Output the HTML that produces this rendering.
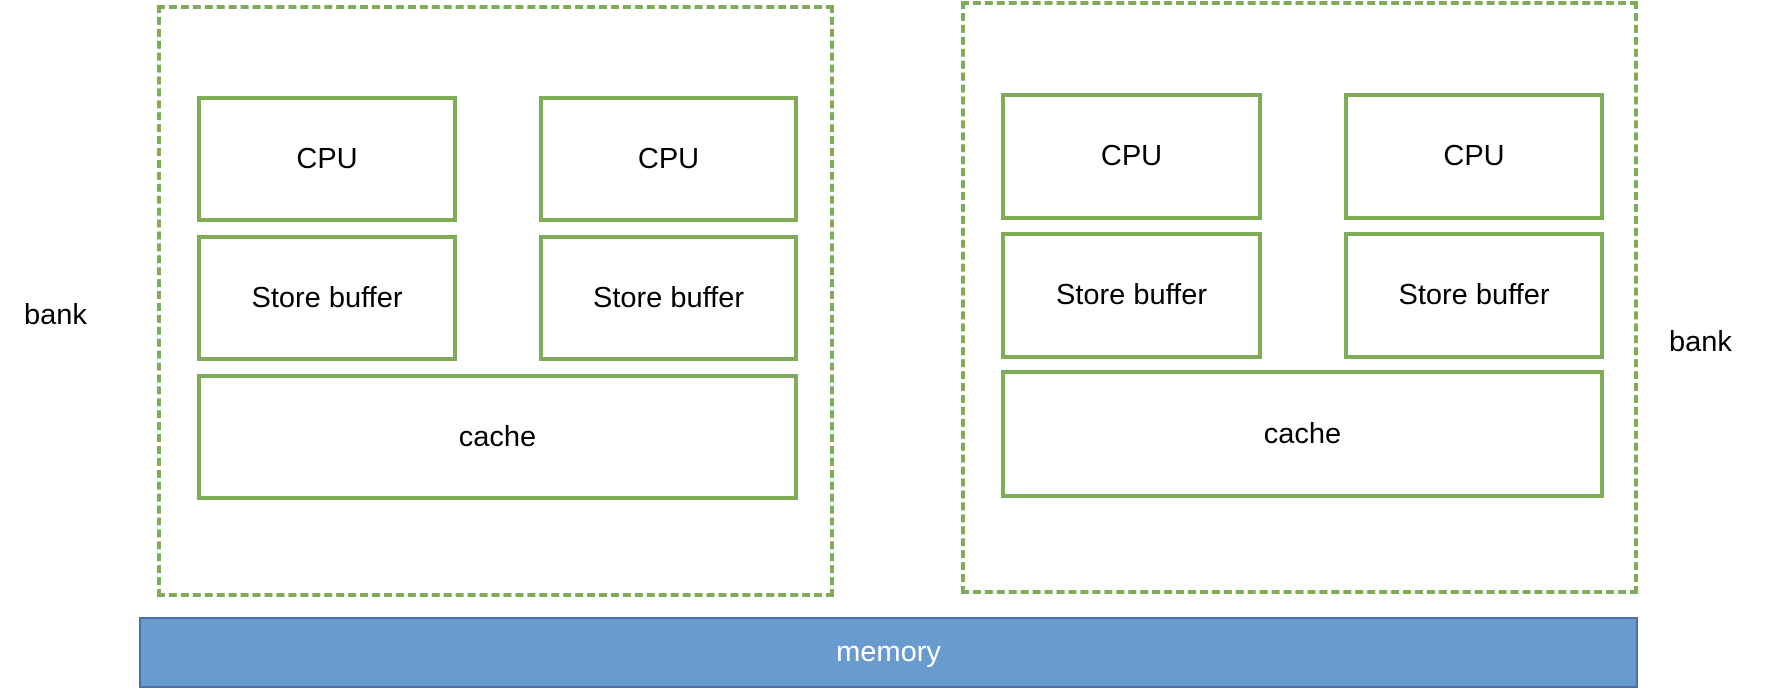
<!DOCTYPE html>
<html><head><meta charset="utf-8"><style>
body{margin:0;width:1786px;height:698px;background:#fff;position:relative;overflow:hidden;font-family:"Liberation Sans","Noto Sans CJK SC",sans-serif;}
.b{position:absolute;box-sizing:border-box;border:4px solid #7fac56;display:flex;align-items:center;justify-content:center;font-size:29px;color:#000;}
.d{position:absolute;box-sizing:border-box;border:4px dashed #7fac56;}
.t{position:absolute;font-size:29px;color:#000;}
</style></head><body>
<div class="d" style="left:157px;top:5px;width:677px;height:592px"></div>
<div class="b" style="left:197px;top:96px;width:260px;height:126px">CPU</div>
<div class="b" style="left:539px;top:96px;width:259px;height:126px">CPU</div>
<div class="b" style="left:197px;top:235px;width:260px;height:126px">Store buffer</div>
<div class="b" style="left:539px;top:235px;width:259px;height:126px">Store buffer</div>
<div class="b" style="left:197px;top:374px;width:601px;height:126px">cache</div>

<div class="d" style="left:961px;top:1px;width:677px;height:593px"></div>
<div class="b" style="left:1001px;top:93px;width:261px;height:127px">CPU</div>
<div class="b" style="left:1344px;top:93px;width:260px;height:127px">CPU</div>
<div class="b" style="left:1001px;top:232px;width:261px;height:127px">Store buffer</div>
<div class="b" style="left:1344px;top:232px;width:260px;height:127px">Store buffer</div>
<div class="b" style="left:1001px;top:370px;width:603px;height:128px">cache</div>

<div style="position:absolute;left:139px;top:617px;width:1499px;height:71px;box-sizing:border-box;background:#6a9bd0;border:2px solid #4a72a3;display:flex;align-items:center;justify-content:center;color:#fff;font-size:29px">memory</div>
<div class="t" style="left:24px;top:299px">bank</div>
<div class="t" style="left:1669px;top:326px">bank</div>
</body></html>
